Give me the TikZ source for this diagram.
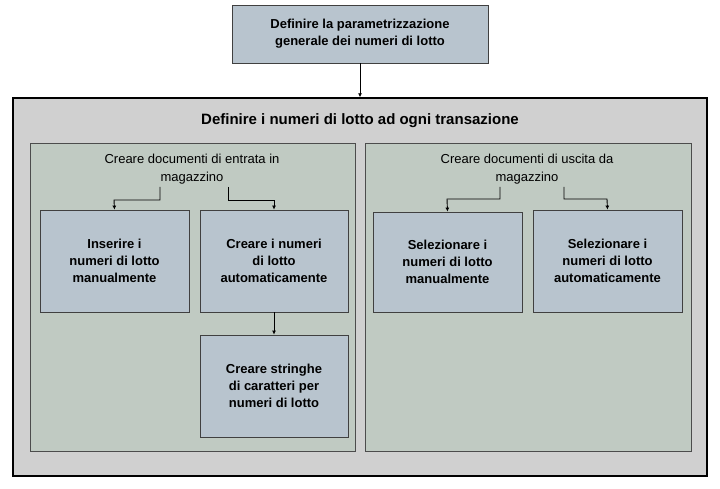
\documentclass[tikz,border=0pt]{standalone}
\usepackage{fontspec}
\setmainfont{Liberation Sans}
\begin{document}
\begin{tikzpicture}[x=1pt,y=-1pt,
  box/.style={draw=black!75,fill=boxc,line width=0.8pt,align=center,font=\fontsize{13}{17}\selectfont\bfseries,inner sep=0pt},
  panel/.style={draw=black!70,fill=panelc,line width=0.8pt},
  arr/.style={-{Latex[length=4pt,width=4pt]},line width=0.9pt}]
\definecolor{boxc}{HTML}{B8C4CE}
\definecolor{panelc}{HTML}{C0CAC2}
\definecolor{outerc}{HTML}{D0D0D0}
\usetikzlibrary{arrows.meta}
\useasboundingbox (0,0) rectangle (720,489);
\node[box,minimum width=256,minimum height=58] (top) at (360,34) {Definire la parametrizzazione\\generale dei numeri di lotto};
\node[draw=black,fill=outerc,line width=1.4pt,minimum width=694,minimum height=378,inner sep=0pt] (outer) at (360,287) {};
\node[font=\fontsize{15}{18}\selectfont\bfseries] (title) at (360,121) {Definire i numeri di lotto ad ogni transazione};
\draw[arr] (top.south) -- (outer.north);
\node[panel,minimum width=325,minimum height=308,inner sep=0pt] (lp) at (192.5,297) {};
\node[panel,minimum width=326,minimum height=308,inner sep=0pt] (rp) at (528,297) {};
\node[align=center,font=\fontsize{13}{18}\selectfont] (lh) at (192,169) {Creare documenti di entrata in\\magazzino};
\node[align=center,font=\fontsize{13}{18}\selectfont] (rh) at (527,169) {Creare documenti di uscita da\\magazzino};
\node[box,minimum width=149,minimum height=102] (b1) at (114.5,261) {Inserire i\\numeri di lotto\\manualmente};
\node[box,minimum width=148,minimum height=102] (b2) at (274,261) {Creare i numeri\\di lotto\\automaticamente};
\node[box,minimum width=148,minimum height=102] (b3) at (274,386) {Creare stringhe\\di caratteri per\\numeri di lotto};
\node[box,minimum width=149,minimum height=100] (b4) at (447.5,262) {Selezionare i\\numeri di lotto\\manualmente};
\node[box,minimum width=149,minimum height=102] (b5) at (607.5,261) {Selezionare i\\numeri di lotto\\automaticamente};
\coordinate (l1) at (160,187); \coordinate (l2) at (228,187);
\coordinate (r1) at (500,187); \coordinate (r2) at (564,187);
\draw[arr] (l1) |- (114,200) -- (b1.north);
\draw[arr] (l2) |- (274,200) -- (b2.north);
\draw[arr] (r1) |- (447,199) -- (b4.north);
\draw[arr] (r2) |- (607,199) -- (b5.north);
\draw[arr] (b2.south) -- (b3.north);
\end{tikzpicture}
\end{document}
